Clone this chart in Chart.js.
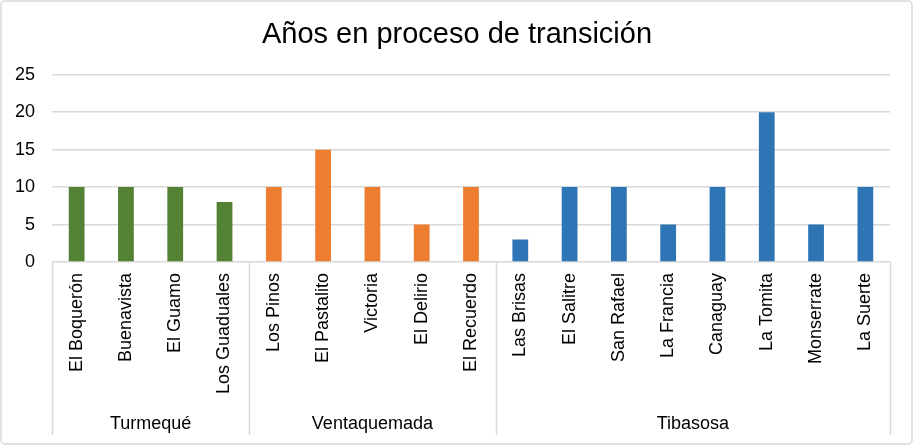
<!DOCTYPE html>
<html>
<head>
<meta charset="utf-8">
<script src="https://cdn.jsdelivr.net/npm/chart.js@4"></script>
<style>
  html, body { margin: 0; padding: 0; background: #fff; }
  #wrap { width: 914px; height: 446px; }
</style>
</head>
<body>
<div id="wrap"><canvas id="barChartCanvas" width="914" height="446"></canvas></div>
<script>
// datos
const veredas = [
    "El Boquerón", "Buenavista", "El Guamo", "Los Guaduales",
    "Los Pinos", "El Pastalito", "Victoria", "El Delirio", "El Recuerdo",
    "Las Brisas", "El Salitre", "San Rafael", "La Francia", "Canaguay", "La Tomita", "Monserrate", "La Suerte"
];
const municipios = ["Turmequé", "Ventaquemada", "Tibasosa"];
const veredasPorMunicipio = [4, 5, 8];
const anios = [10, 10, 10, 8, 10, 15, 10, 5, 10, 3, 10, 10, 5, 10, 20, 5, 10];
const coloresMunicipio = ["#548235", "#ED7D31", "#2E75B6"];

const fuente = "'Liberation Sans', Arial, sans-serif";

// color de cada barra segun su municipio
const colores = [];
veredasPorMunicipio.forEach((n, g) => {
    for (let i = 0; i < n; i++) colores.push(coloresMunicipio[g]);
});

// separadores y nombres de municipio debajo de las veredas
const gruposPlugin = {
    id: "grupos",
    beforeDraw(chart) {
        const ctx = chart.ctx;
        ctx.save();
        ctx.fillStyle = "#fff";
        ctx.fillRect(0, 0, chart.width, chart.height);
        ctx.strokeStyle = "#d9d9d9";
        ctx.lineWidth = 1.5;
        ctx.beginPath();
        ctx.roundRect(1, 1, chart.width - 3, chart.height - 3, 4);
        ctx.stroke();
        ctx.restore();
    },
    afterDraw(chart) {
        const ctx = chart.ctx;
        const x = chart.scales.x;
        const bottom = chart.chartArea.bottom;
        const half = (x.getPixelForValue(1) - x.getPixelForValue(0)) / 2;
        ctx.save();
        ctx.strokeStyle = "#d9d9d9";
        ctx.lineWidth = 1.5;
        ctx.fillStyle = "#000";
        ctx.font = "18px " + fuente;
        ctx.textAlign = "center";
        ctx.textBaseline = "middle";
        let start = 0;
        const edges = [x.getPixelForValue(0) - half];
        veredasPorMunicipio.forEach((n, g) => {
            const end = start + n - 1;
            const left = x.getPixelForValue(start) - half;
            const right = x.getPixelForValue(end) + half;
            edges.push(right);
            ctx.fillText(municipios[g], (left + right) / 2, bottom + 162);
            start += n;
        });
        edges.forEach((px) => {
            ctx.beginPath();
            ctx.moveTo(Math.round(px) + 0.5, bottom);
            ctx.lineTo(Math.round(px) + 0.5, bottom + 173);
            ctx.stroke();
        });
        ctx.restore();
    },
};

const ctx = document.getElementById("barChartCanvas").getContext("2d");
new Chart(ctx, {
    type: "bar",
    data: {
        labels: veredas,
        datasets: [
            {
                label: "Años",
                data: anios,
                backgroundColor: colores,
                barPercentage: 0.32,
                categoryPercentage: 1,
            },
        ],
    },
    options: {
        responsive: false,
        animation: false,
        layout: { padding: 0 },
        scales: {
            x: {
                grid: { display: false },
                border: { display: false },
                ticks: {
                    color: "#000",
                    font: { family: fuente, size: 18 },
                    maxRotation: 90,
                    minRotation: 90,
                    autoSkip: false,
                    padding: 3,
                },
                afterFit: function (scale) {
                    scale.height = 184;
                },
            },
            y: {
                min: 0,
                max: 25,
                ticks: {
                    stepSize: 5,
                    color: "#000",
                    font: { family: fuente, size: 18 },
                    padding: 17,
                },
                grid: { color: "#d9d9d9", lineWidth: 1.5, drawTicks: false },
                border: { display: false },
                afterFit: function (scale) {
                    scale.width = 52;
                },
            },
            // margen derecho, sin marcas
            margen: {
                position: "right",
                min: 0,
                max: 25,
                ticks: { display: false },
                grid: { display: false },
                border: { display: false },
                afterFit: function (scale) {
                    scale.width = 24;
                },
            },
        },
        plugins: {
            legend: { display: false },
            tooltip: { enabled: false },
            title: {
                display: true,
                text: "Años en proceso de transición",
                color: "#000",
                font: { family: fuente, size: 29, weight: "normal" },
                padding: { top: 18, bottom: 22 },
            },
        },
    },
    plugins: [gruposPlugin],
});
</script>
</body>
</html>
